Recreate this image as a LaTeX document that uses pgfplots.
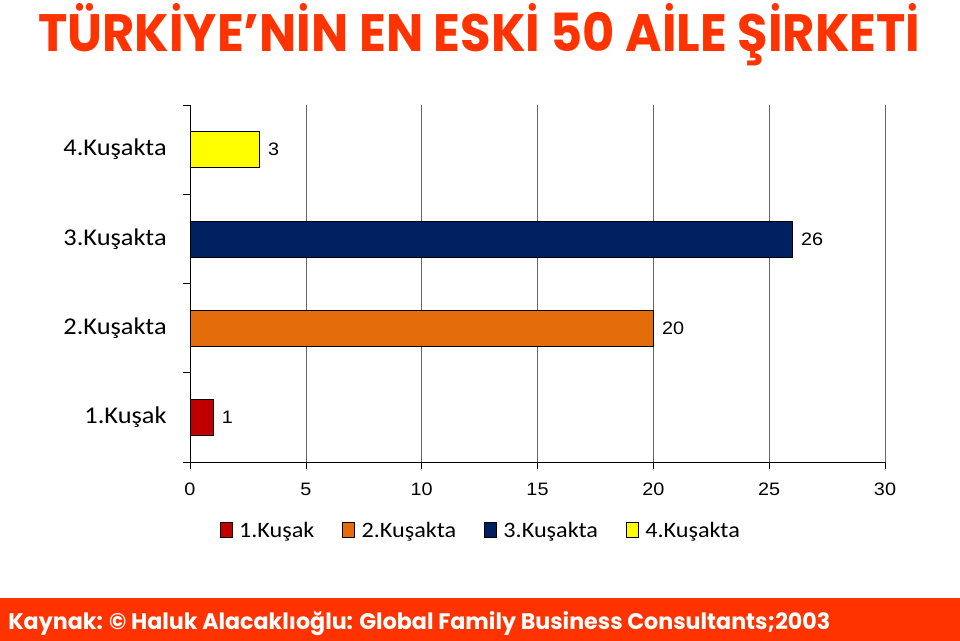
\documentclass[border=0pt]{standalone}
\usepackage{fontspec}
\usepackage{pgfplots}
\pgfplotsset{compat=1.18}
\setmainfont{Carlito}
\newfontfamily\labf{Carlito}[FakeStretch=1.1]
\newfontfamily\arialf{Liberation Sans}[FakeStretch=1.1]
\newfontfamily\titlef{Poppins}
\definecolor{titlered}{HTML}{FF3300}
\definecolor{barred}{HTML}{C00000}
\definecolor{barorange}{HTML}{E46C0A}
\definecolor{barnavy}{HTML}{002060}
\definecolor{baryellow}{HTML}{FFFF00}
\begin{document}
\begin{tikzpicture}[x=1pt,y=1pt]
\path[use as bounding box] (0,0) rectangle (720,480.75);
\fill[titlered] (0,0) rectangle (720,32.25);
\node[anchor=base west, inner sep=0, text=titlered] at (28.5,441.75)
  {\resizebox{661.5pt}{36pt}{\titlef\bfseries TÜRKİYE’NİN EN ESKİ 50 AİLE ŞİRKETİ}};
\node[anchor=base west, inner sep=0, text=white] at (6,8.25)
  {\resizebox{616.5pt}{13.5pt}{\titlef\bfseries Kaynak: © Haluk Alacaklıoğlu: Global Family Business Consultants;2003}};
\begin{axis}[
  scale only axis,
  width=521.25pt, height=267.75pt,
  at={(142.5pt,134.25pt)}, anchor=south west,
  xbar, bar width=27pt, bar shift=0pt,
  xmin=0, xmax=30,
  ymin=-0.5, ymax=3.5,
  axis x line=bottom, axis y line=left,
  axis line style={-, black},
  xtick={0,5,...,30},
  ytick={-0.5,0.5,1.5,2.5,3.5},
  yticklabels={1.Kuşak,2.Kuşakta,3.Kuşakta,4.Kuşakta},
  y tick label as interval,
  tick align=outside,
  major tick length=5pt,
  tick style={black, thin},
  xmajorgrids,
  grid style={gray!80!black, thin},
  /pgf/number format/assume math mode=true,
  xticklabel style={font=\arialf\fontsize{13.5}{15}\selectfont, yshift=-7pt},
  yticklabel style={font=\labf\fontsize{18}{21}\selectfont, xshift=-9pt},
  nodes near coords,
  every node near coord/.append style={font=\arialf\fontsize{13.5}{15}\selectfont, anchor=west, xshift=3pt, text=black},
  legend style={draw=none, at={(0.419,-0.192)}, anchor=center, legend columns=4,
    font=\labf\fontsize{16.5}{19}\selectfont,
    /tikz/every odd column/.append style={column sep=3pt},
    /tikz/every even column/.append style={column sep=19pt}},
  legend image code/.code={\draw[#1,draw=black] (0pt,-5pt) rectangle (9pt,6pt);},
  clip=false,
]
\addplot[fill=barred, draw=black] coordinates {(1,0)};
\addplot[fill=barorange, draw=black] coordinates {(20,1)};
\addplot[fill=barnavy, draw=black] coordinates {(26,2)};
\addplot[fill=baryellow, draw=black] coordinates {(3,3)};
\legend{1.Kuşak,2.Kuşakta,3.Kuşakta,4.Kuşakta}
\end{axis}
\end{tikzpicture}
\end{document}
